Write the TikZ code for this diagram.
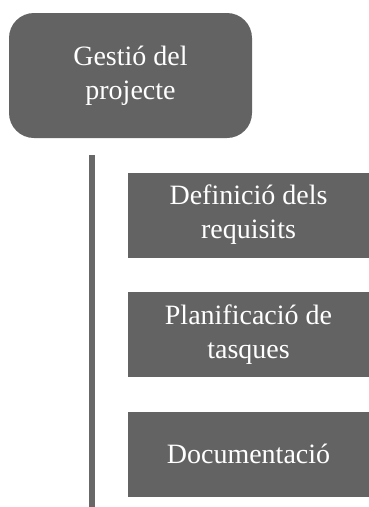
\documentclass[tikz,border=0pt]{standalone}
\usepackage{fontspec}
\setmainfont{Liberation Serif}
\newfontfamily\boxfont{Liberation Serif}
\usetikzlibrary{positioning}
\definecolor{boxgray}{RGB}{99,99,99}
\definecolor{bargray}{RGB}{104,104,104}

\begin{document}
\begin{tikzpicture}[node distance=119.5pt, on grid,
  label font/.style={font=\boxfont\fontsize{28}{34}\selectfont},
  phase/.style={fill=boxgray, text=white, rounded corners=25pt, minimum width=243pt, minimum height=125pt, align=center, label font},
  task/.style={fill=boxgray, text=white, minimum width=241pt, minimum height=85pt, align=center, label font}]
  \useasboundingbox (0,0) rectangle (369pt,-507pt);
  \node[phase] (gp) at (130.5pt,-75.5pt) {Gestió del\\projecte};
  \node[task] (t1) at (248.5pt,-215pt) {Definició dels\\requisits};
  \node[task] (t2) [below=of t1] {Planificació de\\tasques};
  \node[task] (t3) [below=of t2] {Documentació};
  \coordinate (bartop) at (91.5pt,-155pt);
  \coordinate (barbot) at (91.5pt,-507pt);
  \draw[draw=bargray, line width=6pt] (bartop) -- (barbot);
\end{tikzpicture}
\end{document}
